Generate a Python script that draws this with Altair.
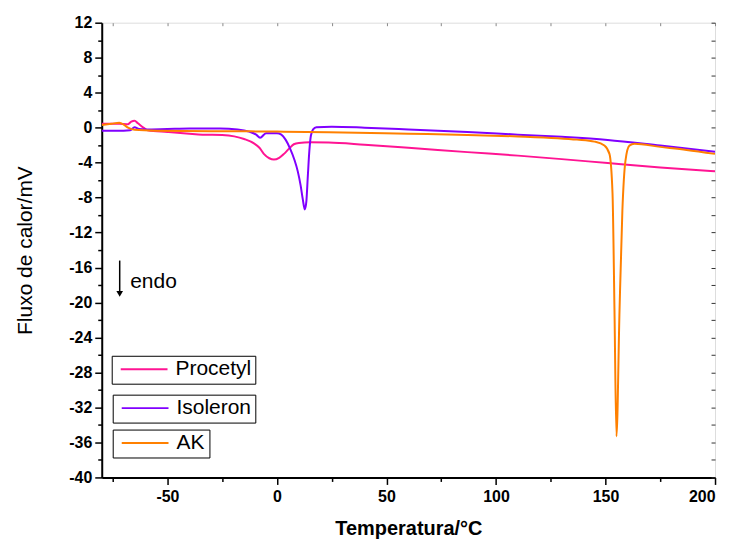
import altair as alt
import pandas as pd

# ---- data ----
proc_t = [-80, -72, -68, -66.5, -65, -63.5, -61, -59, -50, -40, -34, -25, -19.5, -15, -10.5, -8, -6,
          -3.5, -1.4, 1, 3.2, 5.5, 7.7, 10, 15, 23.6, 40, 60, 87, 110, 130, 151, 175, 200]
proc_v = [0.45, 0.45, 0.4, 0.7, 0.8, 0.5, 0.0, -0.3, -0.5, -0.7, -0.8, -0.85, -1.0, -1.3, -1.8, -2.3, -3.0,
          -3.5, -3.65, -3.45, -3.0, -2.4, -1.9, -1.75, -1.68, -1.7, -1.95, -2.3, -2.8, -3.2, -3.6, -4.05, -4.55, -5.0]

iso_t = [-80, -70, -67, -65, -63, -60, -50, -40, -26, -18, -12.7, -9.5, -7.7, -5, 0, 2, 4, 6, 8, 9.5,
         10.8, 11.8, 12.7, 13.4, 14.1, 14.8, 15.5, 16.5, 18, 25, 40, 60, 87, 110, 130, 151, 175, 200]
iso_v = [-0.35, -0.35, -0.3, 0.05, -0.15, -0.2, -0.15, -0.1, -0.1, -0.2, -0.45, -0.8, -1.15, -0.65, -0.65,
         -0.8, -1.4, -2.4, -3.7, -5.0, -6.6, -8.2, -9.35, -8.5, -5.5, -2.6, -0.9, -0.2, 0.05, 0.1, 0.0,
         -0.2, -0.5, -0.8, -1.05, -1.4, -2.05, -2.75]

ak_t = [-80, -75.5, -72, -70, -68, -65, -55, -30, 0, 23.6, 60, 87, 110, 128, 137, 145, 149.5, 151.8,
        153.2, 154.1, 155, 156.4, 157.7, 159.1, 160.9, 163.2, 175, 187, 200]
ak_v = [0.3, 0.45, 0.55, 0.35, 0.0, -0.25, -0.35, -0.4, -0.45, -0.53, -0.7, -0.83, -1.0, -1.2, -1.37,
        -1.6, -2.05, -3.0, -7.5, -20.9, -35.3, -20.9, -9.5, -3.8, -2.05, -1.85, -2.2, -2.55, -3.0]

series_names = ["Procetyl", "Isoleron", "AK"]
series_colors = ["#ff1493", "#8000ff", "#ff8000"]

x_ticks = list(range(-75, 201, 25))
y_ticks = list(range(-40, 13, 2))

arrow_x = [-71.8]
arrow_top = [-15.2]
arrow_bottom = [-18.7]
arrow_head = [-19.0]
endo_x = [-67.0]
endo_y = [-17.6]
endo_label = ["endo"]

FONT = "Liberation Sans"
X_DOMAIN = [-80, 200]
Y_DOMAIN = [-40, 12]

xs = alt.Scale(domain=X_DOMAIN, nice=False, zero=False)
ys = alt.Scale(domain=Y_DOMAIN, nice=False, zero=False)

legend_pos = [(10, 334), (11, 373), (11, 408)]


def legend(i):
    return alt.Legend(
        title=None, orient="none", legendX=legend_pos[i][0], legendY=legend_pos[i][1],
        symbolType="stroke", symbolSize=2200, symbolStrokeWidth=2,
        labelFontSize=21, labelFont=FONT, labelColor="black", labelOffset=7,
        strokeColor="black", padding=4, clipHeight=19, symbolOffset=4,
    )


bottom_axis = alt.Axis(
    orient="bottom", values=x_ticks,
    labelExpr="datum.value % 50 === 0 ? '' + datum.value : ''",
    tickSize={"condition": {"test": "datum.value % 50 === 0", "value": 7}, "value": 4},
    tickColor="black", tickWidth=1.5, domainColor="black", domainWidth=2,
    labelFont=FONT, labelFontSize=16, labelFontWeight="bold", labelColor="black",
    labelPadding=4, grid=False,
    title="Temperatura/°C", titleFont=FONT, titleFontSize=20, titleFontWeight="bold",
    titleColor="black", titlePadding=14,
)
left_axis = alt.Axis(
    orient="left", values=y_ticks,
    labelExpr="datum.value % 4 === 0 ? '' + datum.value : ''",
    tickSize={"condition": {"test": "datum.value % 4 === 0", "value": 7}, "value": 4},
    tickColor="black", tickWidth=1.5, domainColor="black", domainWidth=2,
    labelFont=FONT, labelFontSize=16, labelFontWeight="bold", labelColor="black",
    labelPadding=3, grid=False,
    title="Fluxo de calor/mV", titleFont=FONT, titleFontSize=21, titleFontWeight="normal",
    titleColor="black", titlePadding=33,
)
top_axis = alt.Axis(
    orient="top", values=x_ticks, labels=False, domain=False, grid=False,
    tickSize=3, offset=-3, tickColor="#888888", title=None,
)
right_axis = alt.Axis(
    orient="right", values=y_ticks, labels=False, domain=False, grid=False,
    tickSize=4, offset=-4, tickColor="#333333", title=None,
)


def line_layer(t, v, i, xaxis, yaxis):
    df = pd.DataFrame({"t": t, "v": v, "series": series_names[i]})
    return alt.Chart(df).mark_line(strokeWidth=2, interpolate="monotone", clip=True).encode(
        x=alt.X("t:Q", scale=xs, axis=xaxis),
        y=alt.Y("v:Q", scale=ys, axis=yaxis),
        color=alt.Color("series:N",
                        scale=alt.Scale(domain=[series_names[i]], range=[series_colors[i]]),
                        legend=legend(i)),
        order=alt.Order("t:Q"),
    )


l1 = line_layer(proc_t, proc_v, 0, bottom_axis, left_axis)
l2 = line_layer(iso_t, iso_v, 1, top_axis, right_axis)
l3 = line_layer(ak_t, ak_v, 2, None, None)

arrow_df = pd.DataFrame({"x": arrow_x, "y": arrow_top, "y2": arrow_bottom, "h": arrow_head})
rule = alt.Chart(arrow_df).mark_rule(color="black", strokeWidth=1.5).encode(
    x=alt.X("x:Q", scale=xs, axis=None),
    y=alt.Y("y:Q", scale=ys, axis=None),
    y2="y2:Q",
)
head = alt.Chart(arrow_df).mark_point(shape="triangle-down", filled=True, color="black",
                                      size=45, opacity=1).encode(
    x=alt.X("x:Q", scale=xs, axis=None),
    y=alt.Y("h:Q", scale=ys, axis=None),
)
text_df = pd.DataFrame({"x": endo_x, "y": endo_y, "label": endo_label})
endo = alt.Chart(text_df).mark_text(align="left", baseline="middle", font=FONT, fontSize=21,
                                    color="black").encode(
    x=alt.X("x:Q", scale=xs, axis=None),
    y=alt.Y("y:Q", scale=ys, axis=None),
    text="label:N",
)

chart = alt.layer(l1, l2, l3, rule, head, endo).resolve_scale(
    color="independent"
).resolve_axis(x="independent", y="independent").properties(
    width=615, height=456,
    autosize=alt.AutoSizeParams(type="none"),
    padding={"left": 94, "top": 14, "right": 8, "bottom": 62},
).configure_view(stroke="black", strokeWidth=2).configure(background="white")

chart.save("out.html", embed_options={"renderer": "svg", "actions": False})
